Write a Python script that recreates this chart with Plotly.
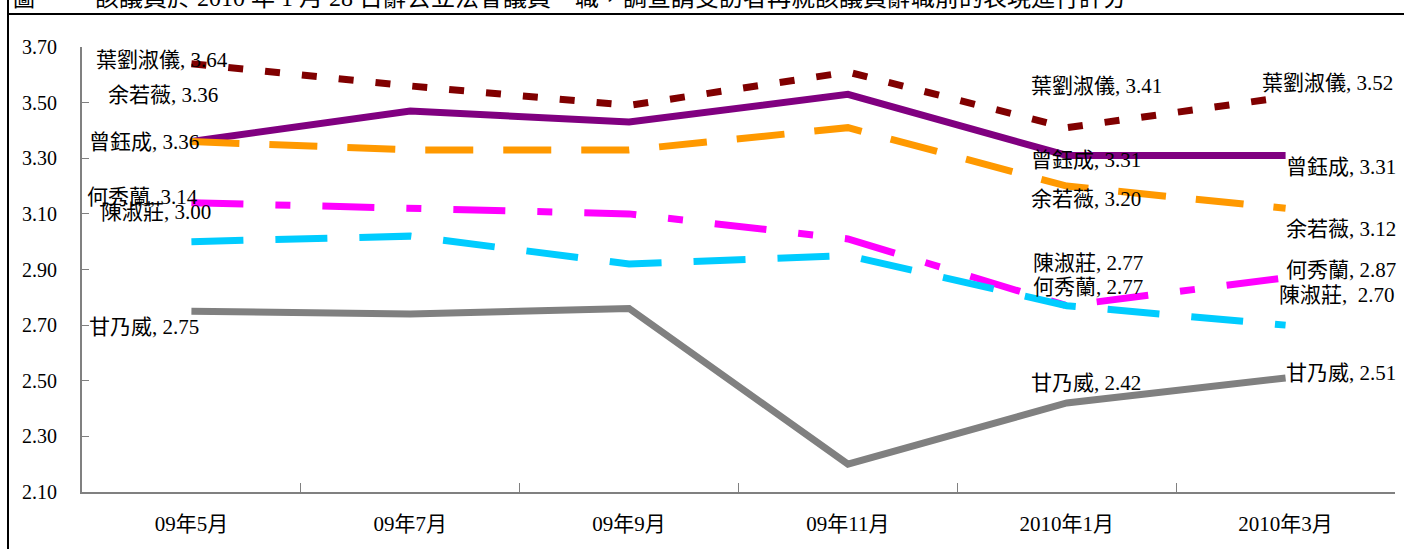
import plotly.graph_objects as go

categories = ["09年5月", "09年7月", "09年9月", "09年11月", "2010年1月", "2010年3月"]

names = ["葉劉淑儀", "曾鈺成", "余若薇", "何秀蘭", "陳淑莊", "甘乃威"]
ye = [3.64, 3.56, 3.49, 3.61, 3.41, 3.52]
tsang = [3.36, 3.47, 3.43, 3.53, 3.31, 3.31]
yu = [3.36, 3.33, 3.33, 3.41, 3.20, 3.12]
ho = [3.14, 3.12, 3.10, 3.01, 2.77, 2.87]
chan = [3.00, 3.02, 2.92, 2.95, 2.77, 2.70]
kam = [2.75, 2.74, 2.76, 2.20, 2.42, 2.51]
series = [ye, tsang, yu, ho, chan, kam]

y_ticks = [2.10, 2.30, 2.50, 2.70, 2.90, 3.10, 3.30, 3.50, 3.70]
title_prefix = "圖"
title_text = "該議員於 2010 年 1 月 28 日辭去立法會議員一職，調查請受訪者再就該議員辭職前的表現進行評分"

colors = ["#800000", "#800080", "#FF9900", "#FF00FF", "#00CCFF", "#808080"]
dashes = ["15px,22px", "solid", "48px,30px", "52px,32px,15px,32px", "52px,32px", "solid"]

# label offsets (xshift, yshift) in px for labelled points: point index -> offset
label_offsets = {
    0: {0: (-29, 4), 4: (30, 42), 5: (42, 14)},
    1: {0: (-47, 0), 4: (19, -5), 5: (55, -12)},
    2: {0: (-28, 47), 4: (19, -13), 5: (55, -21)},
    3: {0: (-49, 6), 4: (21, 19), 5: (55, 8)},
    4: {0: (-35, 30), 4: (21, 43), 5: (51, 30)},
    5: {0: (-47, -16), 4: (19, 20), 5: (55, 5)},
}

FONT = "Liberation Serif, Noto Sans CJK TC, serif"
W, H = 1404, 549
L, R, T, B = 82, 9, 47, 57

fig = go.Figure()
for name, vals, col, dash in zip(names, series, colors, dashes):
    fig.add_trace(go.Scatter(
        x=categories, y=vals, mode="lines", name=name,
        line=dict(color=col, width=7, dash=dash),
        hoverinfo="skip", showlegend=False,
    ))

annotations = []
for si, (name, vals) in enumerate(zip(names, series)):
    for pi, (dx, dy) in label_offsets[si].items():
        sep = ",  " if (si == 4 and pi == 5) else ", "
        annotations.append(dict(
            x=categories[pi], y=vals[pi], xref="x", yref="y",
            text=f"{name}{sep}{vals[pi]:.2f}", showarrow=False,
            xshift=dx, yshift=dy, xanchor="center", yanchor="middle",
            font=dict(family=FONT, size=21, color="#000000"),
        ))

ph = H - T - B
pw = W - L - R
def px_to_paper_y(py):
    return (H - B - py) / ph
def px_to_paper_x(px):
    return (px - L) / pw

annotations.append(dict(
    x=px_to_paper_x(11), y=px_to_paper_y(-2), xref="paper", yref="paper",
    xanchor="left", yanchor="middle", showarrow=False, text=title_prefix,
    font=dict(family=FONT, size=22, color="#000000"),
))
annotations.append(dict(
    x=px_to_paper_x(93), y=px_to_paper_y(-2), xref="paper", yref="paper",
    xanchor="left", yanchor="middle", showarrow=False, text=title_text,
    font=dict(family=FONT, size=24, color="#000000"),
))

shapes = [
    dict(type="line", xref="paper", yref="paper",
         x0=px_to_paper_x(8), x1=px_to_paper_x(8), y0=px_to_paper_y(0), y1=px_to_paper_y(H),
         line=dict(color="#000000", width=2)),
    dict(type="line", xref="paper", yref="paper",
         x0=px_to_paper_x(8), x1=px_to_paper_x(W), y0=px_to_paper_y(14), y1=px_to_paper_y(14),
         line=dict(color="#000000", width=2)),
]

fig.update_layout(
    width=W, height=H,
    margin=dict(l=L, r=R, t=T, b=B),
    paper_bgcolor="white", plot_bgcolor="white",
    annotations=annotations, shapes=shapes,
    font=dict(family=FONT, size=18, color="#000000"),
    xaxis=dict(
        type="category", range=[-0.5, 5.5], tickson="boundaries",
        ticks="inside", ticklen=9, tickcolor="#808080", tickwidth=1,
        showline=True, linecolor="#808080", linewidth=2,
        showgrid=False, zeroline=False, ticklabelstandoff=12,
        tickfont=dict(family=FONT, size=21, color="#000000"),
    ),
    yaxis=dict(
        range=[2.10, 3.70], tickvals=y_ticks,
        ticktext=[f"{v:.2f}" for v in y_ticks],
        ticks="inside", ticklen=7, tickcolor="#808080", tickwidth=1,
        showline=True, linecolor="#808080", linewidth=2,
        showgrid=False, zeroline=False, ticklabelstandoff=19,
        tickfont=dict(family=FONT, size=20, color="#000000"),
    ),
)

fig.write_html(
    "out.html",
    config={"displayModeBar": False},
    post_script="document.body.style.margin='0px';document.body.style.overflow='hidden';",
)
